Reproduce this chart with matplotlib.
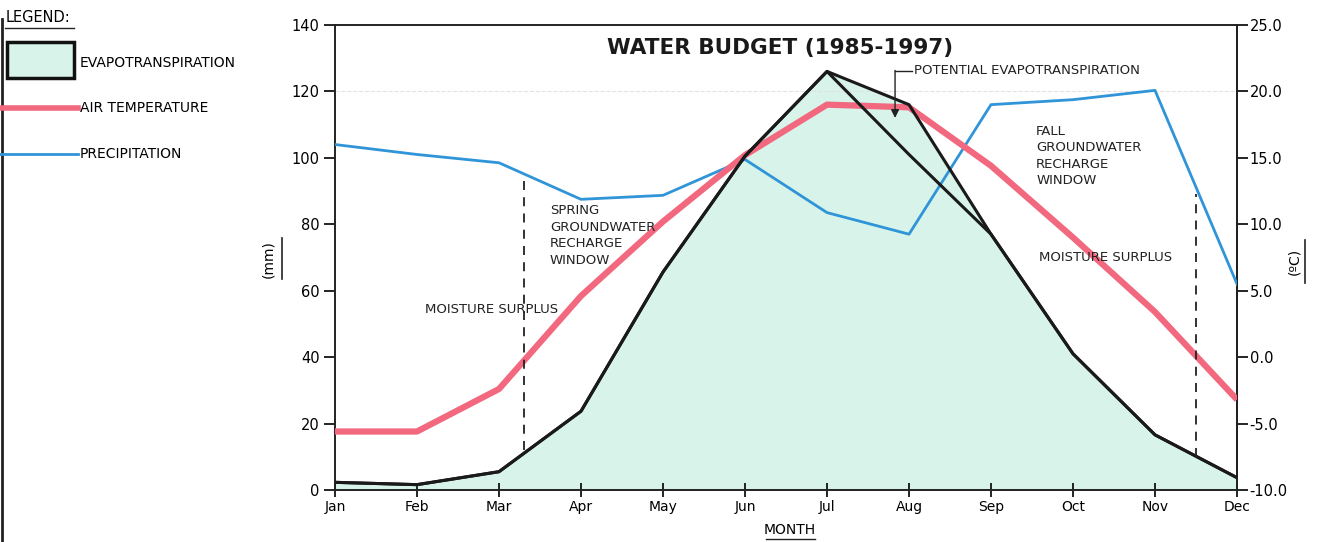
import matplotlib.pyplot as plt
from matplotlib.lines import Line2D
from matplotlib.patches import Rectangle

months = ["Jan", "Feb", "Mar", "Apr", "May", "Jun",
          "Jul", "Aug", "Sep", "Oct", "Nov", "Dec"]
precip_mm = [104, 101, 98.5, 87.5, 88.7, 99.5, 83.5, 77, 116, 117.5, 120.3, 62]
air_temp_c = [-5.6, -5.6, -2.4, 4.6, 10.2, 15.2, 19.0, 18.8, 14.4, 9.0, 3.4, -3.2]
et_mm = [2.3, 1.6, 5.5, 23.7, 65.6, 100.5, 126, 101, 77, 41, 16.6, 3.7]
pet_mm = [2.3, 1.6, 5.5, 23.7, 65.6, 100.5, 126, 116, 77, 41, 16.6, 3.7]

# recharge window markers (fractional month index) and their mm extent
windows = [(2.3, 93, 12), (10.5, 89, 10)]

GREEN = "#d8f3ea"
RED = "#f2687e"
BLUE = "#2f95d8"
FONT = "DejaVu Sans"


def mm_to_c(v):
    return v / 4.0 - 10.0


def c_to_mm(t):
    return (t + 10.0) * 4.0


fig = plt.figure(figsize=(13.23, 5.42), dpi=100)
ax = fig.add_axes([0.2532, 0.096, 0.6818, 0.858])
x = list(range(len(months)))

ax.fill_between(x, 0, pet_mm, color=GREEN, lw=0, zorder=1)
ax.axhline(120, color="#e2e2e2", lw=0.8, ls="--", zorder=1.5)
ax.plot(x, precip_mm, color=BLUE, lw=2, zorder=3)
ax.plot(x, [c_to_mm(t) for t in air_temp_c], color=RED, lw=4.5, zorder=4,
        solid_capstyle="butt")
ax.plot(x, et_mm, color="#1a1a1a", lw=2.2, zorder=5)
ax.plot(x, pet_mm, color="#1a1a1a", lw=2.2, zorder=5)

for wx, top, bot in windows:
    ax.plot([wx, wx], [bot, top], color="#222", lw=1.3, ls=(0, (5, 4)), zorder=6)

txt = dict(fontsize=9.5, family=FONT, color="#222", zorder=7)
ax.text(2.62, 86, "SPRING\nGROUNDWATER\nRECHARGE\nWINDOW", ha="left", va="top",
        linespacing=1.35, **txt)
ax.text(1.10, 54.3, "MOISTURE SURPLUS", ha="left", va="center", **txt)
ax.text(8.55, 110, "FALL\nGROUNDWATER\nRECHARGE\nWINDOW", ha="left", va="top",
        linespacing=1.35, **txt)
ax.text(8.58, 70, "MOISTURE SURPLUS", ha="left", va="center", **txt)
ax.text(7.06, 126.2, "POTENTIAL EVAPOTRANSPIRATION", ha="left", va="center", **txt)
ax.plot([6.83, 7.04], [126.2, 126.2], color="#222", lw=1, zorder=7)
ax.annotate("", xy=(6.83, 112), xytext=(6.83, 126.3),
            arrowprops=dict(arrowstyle="-|>", color="#222", lw=1,
                            mutation_scale=12, shrinkA=0, shrinkB=0), zorder=7)

ax.text(5.43, 133, "WATER BUDGET (1985-1997)", ha="center", va="center",
        fontsize=15.5, fontweight="bold", family=FONT, color="#1a1a1a")

ax.set_xlim(0, 11)
ax.set_ylim(0, 140)
ax.set_xticks(x)
ax.set_xticklabels(months)
ax.set_yticks(range(0, 141, 20))
ax.tick_params(axis="x", direction="inout", length=10, width=1.2, labelsize=10, pad=2)
ax.tick_params(axis="y", direction="out", length=8, width=1.2, labelsize=10.5, pad=3)
for s in ax.spines.values():
    s.set_linewidth(1.4)
    s.set_color("#222")

sec = ax.secondary_yaxis("right", functions=(mm_to_c, c_to_mm))
sec.set_yticks([25, 20, 15, 10, 5, 0, -5, -10])
sec.set_yticklabels(["25.0", "20.0", "15.0", "10.0", "5.0", "0.0", "-5.0", "-10.0"])
sec.tick_params(direction="out", length=8, width=1.2, labelsize=10.5, pad=1)
sec.spines["right"].set_linewidth(1.4)

# axis labels (underlined)
fig.text(0.2026, 0.522, "(mm)", rotation=90, ha="center", va="center",
         fontsize=10, family=FONT)
fig.add_artist(Line2D([0.2135, 0.2135], [0.485, 0.56], color="#222", lw=1.2))
fig.text(0.978, 0.517, "(ºC)", rotation=90, ha="center", va="center",
         fontsize=10, family=FONT)
fig.add_artist(Line2D([0.9865, 0.9865], [0.478, 0.558], color="#222", lw=1.2))
fig.text(0.597, 0.022, "MONTH", ha="center", va="center", fontsize=10, family=FONT)
fig.add_artist(Line2D([0.579, 0.616], [0.006, 0.006], color="#222", lw=1))

# legend block on the left
fig.add_artist(Line2D([0.0018, 0.0018], [0.0, 0.965], color="#222", lw=2))
fig.text(0.004, 0.968, "LEGEND:", ha="left", va="center", fontsize=10.5, family=FONT)
fig.add_artist(Line2D([0.004, 0.056], [0.949, 0.949], color="#222", lw=1))
fig.add_artist(Rectangle((0.005, 0.856), 0.0506, 0.066, transform=fig.transFigure,
                         facecolor=GREEN, edgecolor="#111", lw=2.5))
fig.text(0.0605, 0.884, "EVAPOTRANSPIRATION", ha="left", va="center",
         fontsize=10, family=FONT)
fig.add_artist(Line2D([0.0, 0.059], [0.801, 0.801], color=RED, lw=4))
fig.text(0.0605, 0.801, "AIR TEMPERATURE", ha="left", va="center",
         fontsize=10, family=FONT)
fig.add_artist(Line2D([0.0, 0.059], [0.716, 0.716], color=BLUE, lw=2))
fig.text(0.0605, 0.716, "PRECIPITATION", ha="left", va="center",
         fontsize=10, family=FONT)

fig.savefig("out.png", dpi=100)
